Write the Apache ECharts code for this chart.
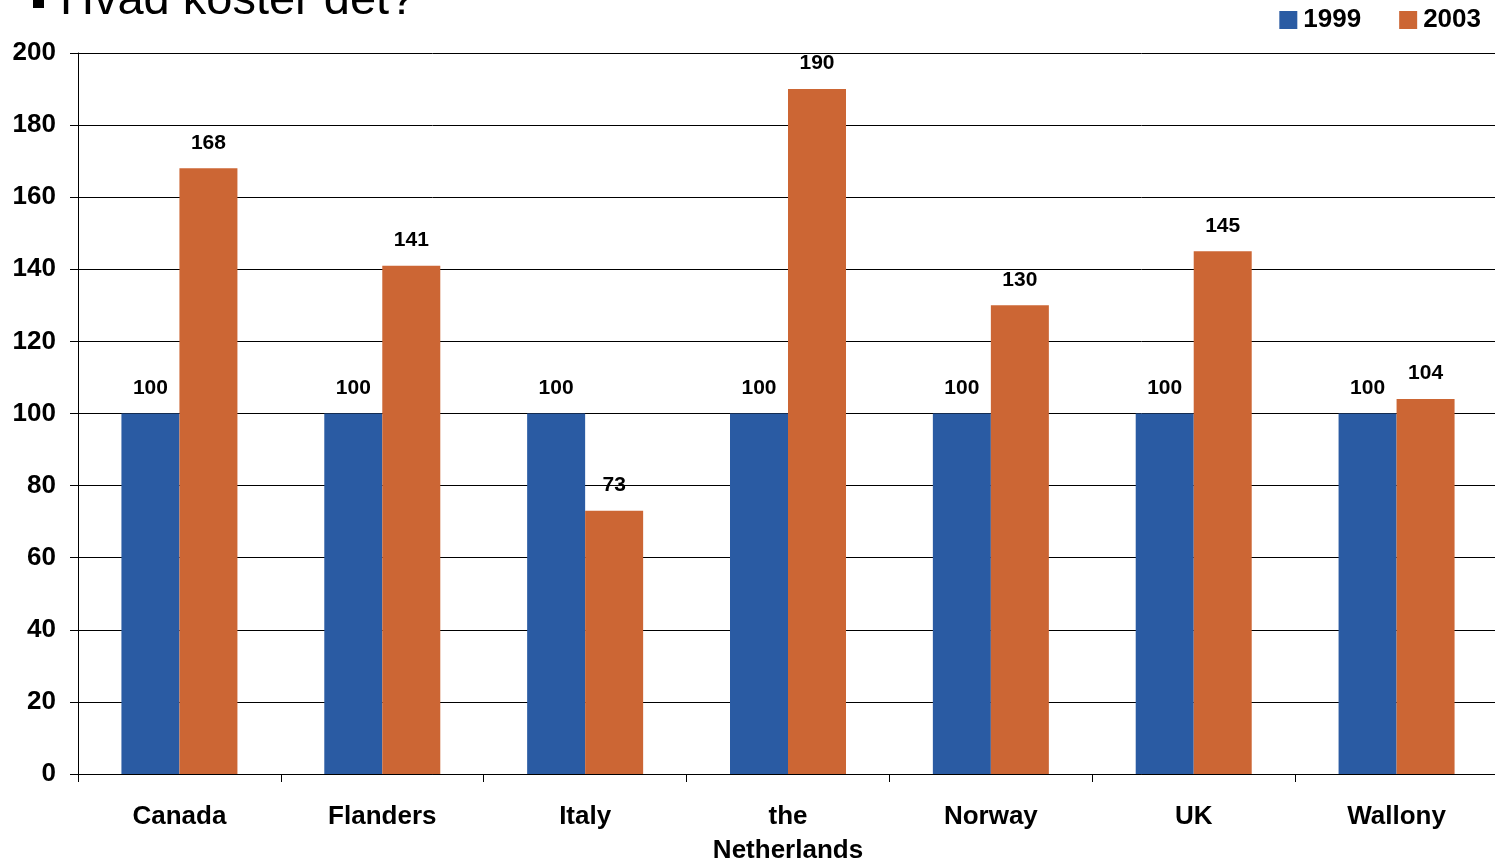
<!DOCTYPE html>
<html><head><meta charset="utf-8">
<script src="https://cdn.jsdelivr.net/npm/echarts@6/dist/echarts.min.js"></script>
<style>html,body{margin:0;padding:0;background:#fff}#c{width:1495px;height:861px}</style>
</head><body><div id="c"></div>
<script>
const categories = ['Canada','Flanders','Italy','the\nNetherlands','Norway','UK','Wallony'];
const series1999 = [100,100,100,100,100,100,100];
const series2003 = [168,141,73,190,130,145,104];
const yTicks = {min:0,max:200,interval:20};
const FF = '"Liberation Sans", Arial, sans-serif';
const chart = echarts.init(document.getElementById('c'));
const lbl = {show:true,position:'top',distance:15,fontFamily:FF,fontWeight:'bold',fontSize:21,color:'#000'};
chart.setOption({
  animation:false,
  textStyle:{fontFamily:FF},
  graphic:[
    {type:'rect',left:33,top:0,shape:{width:11,height:8},style:{fill:'#000'}},
    {type:'text',left:60,top:-22,style:{text:'Hvad koster det?',font:'47px "Liberation Sans", Arial',fill:'#000'}}
  ],
  legend:{right:9,top:2,itemWidth:18,itemHeight:18,itemGap:38,icon:'rect',
    textStyle:{fontFamily:FF,fontSize:26,fontWeight:'bold',color:'#000',padding:[0,0,0,1]},
    data:['1999','2003']},
  grid:{left:78,right:-3,top:53,bottom:87,containLabel:false,outerBoundsMode:'none'},
  xAxis:{type:'category',data:categories,
    axisLine:{lineStyle:{color:'#000',width:1}},
    axisTick:{show:true,length:8,lineStyle:{color:'#000'}},
    axisLabel:{fontFamily:FF,fontSize:26,fontWeight:'bold',color:'#000',margin:26,lineHeight:34}},
  yAxis:{type:'value',min:yTicks.min,max:yTicks.max,interval:yTicks.interval,
    axisLine:{show:true,lineStyle:{color:'#000'}},
    axisTick:{show:true,length:8,lineStyle:{color:'#000'}},
    splitLine:{lineStyle:{color:'#000',width:1}},
    axisLabel:{fontFamily:FF,fontSize:26,fontWeight:'bold',color:'#000',margin:22}},
  series:[
    {name:'1999',type:'bar',data:series1999,barWidth:58,barGap:'0%',itemStyle:{color:'#2A5BA3'},label:lbl},
    {name:'2003',type:'bar',data:series2003,barWidth:58,barGap:'0%',itemStyle:{color:'#CC6634'},label:lbl}
  ]
});
</script></body></html>
